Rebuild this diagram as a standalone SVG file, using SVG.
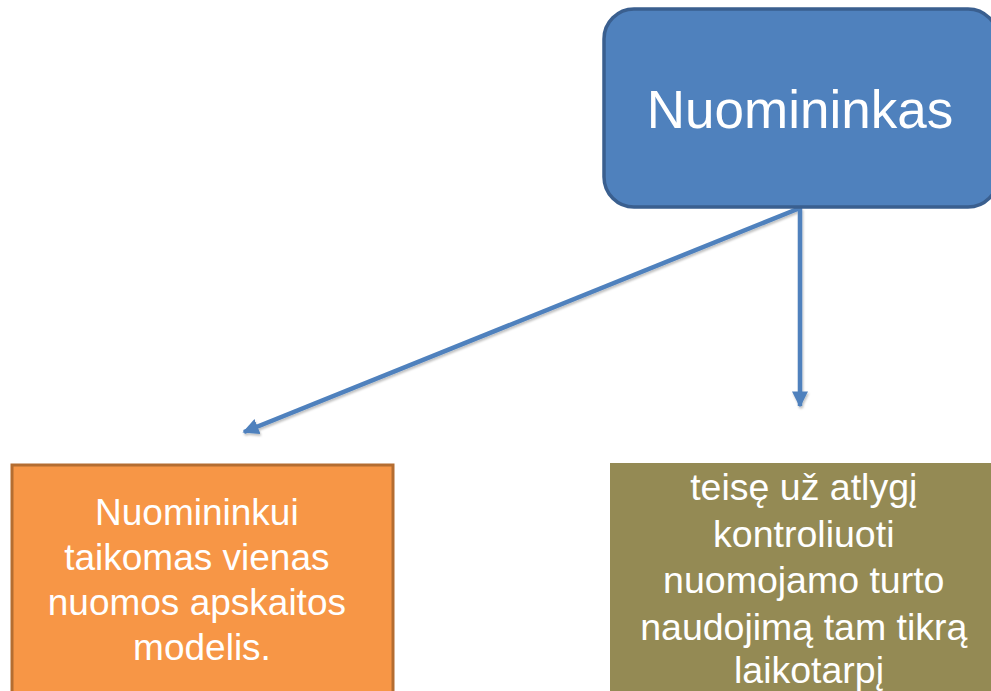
<svg xmlns="http://www.w3.org/2000/svg" width="991" height="691" viewBox="0 0 991 691">
  <style>
    .label { font-family: "Liberation Sans", Arial, sans-serif; fill: #ffffff; text-anchor: middle; }
    .conn { stroke: #4f81bd; stroke-width: 4.5; fill: none; }
  </style>
  <defs>
    <marker id="arrow" viewBox="0 0 10 10" refX="9" refY="5" markerWidth="3.6" markerHeight="3.6" orient="auto" markerUnits="strokeWidth">
      <path d="M0,0 L10,5 L0,10 Z" fill="#4f81bd"/>
    </marker>
    <filter id="shadow" x="-10%" y="-10%" width="120%" height="120%">
      <feDropShadow dx="1" dy="2" stdDeviation="1.2" flood-color="#000" flood-opacity="0.25"/>
    </filter>
  </defs>
  <rect width="991" height="691" fill="#ffffff"/>

  <g id="connectors" filter="url(#shadow)">
    <line class="conn" x1="800" y1="208" x2="244" y2="432" marker-end="url(#arrow)"/>
    <line class="conn" x1="800" y1="208" x2="800" y2="406" marker-end="url(#arrow)"/>
  </g>

  <g id="nuomininkas">
    <rect x="604" y="9" width="394" height="198" rx="30" ry="30" fill="#4f81bd" stroke="#3a5f8f" stroke-width="3.5"/>
    <text class="label" x="800" y="128" font-size="53">Nuomininkas</text>
  </g>

  <g id="modelis">
    <rect x="12" y="465" width="381" height="240" fill="#f79646" stroke="#b46d31" stroke-width="3"/>
    <text class="label" font-size="37">
      <tspan x="202" y="525">Nuomininkui</tspan>
      <tspan x="202" y="570">taikomas vienas</tspan>
      <tspan x="202" y="615">nuomos apskaitos</tspan>
      <tspan x="202" y="660">modelis.</tspan>
    </text>
  </g>

  <g id="teise">
    <rect x="610" y="463" width="398" height="240" fill="#948a54"/>
    <text class="label" font-size="37.5">
      <tspan x="809" y="500">teisę už atlygį</tspan>
      <tspan x="809" y="547">kontroliuoti</tspan>
      <tspan x="809" y="593">nuomojamo turto</tspan>
      <tspan x="809" y="640">naudojimą tam tikrą</tspan>
      <tspan x="809" y="683">laikotarpį</tspan>
    </text>
  </g>
</svg>
